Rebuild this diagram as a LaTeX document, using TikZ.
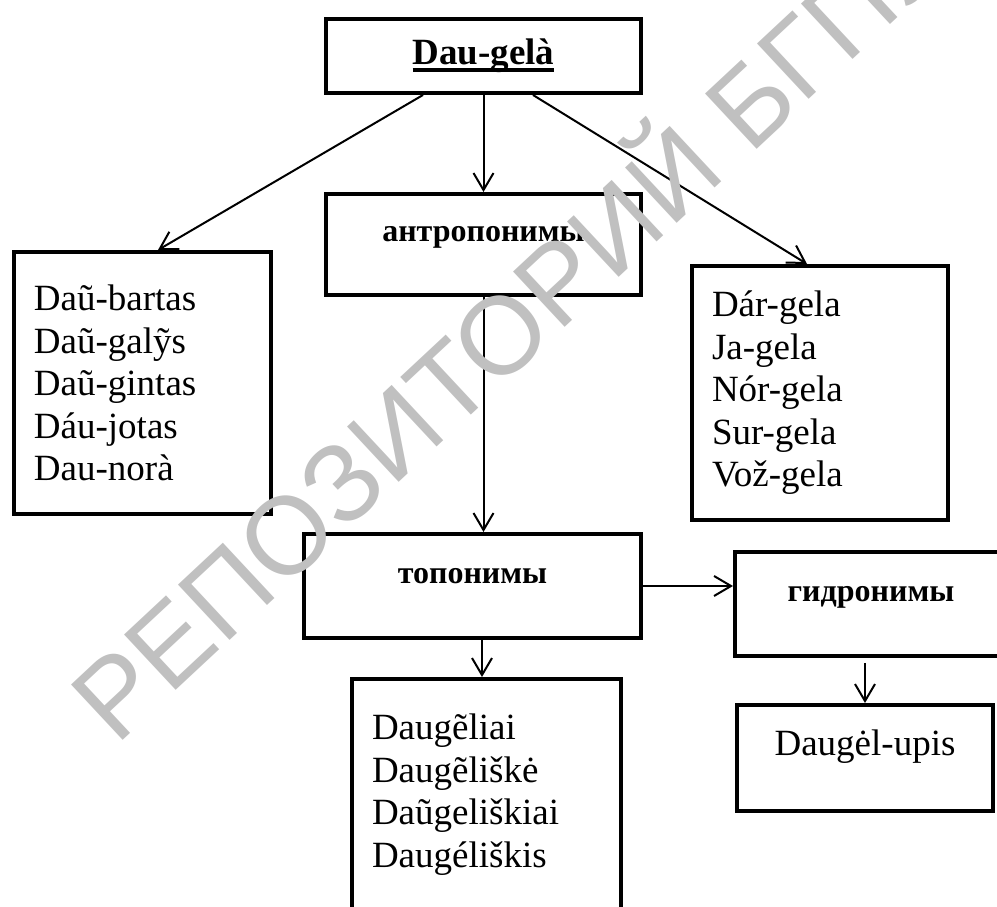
\documentclass[tikz,border=0pt]{standalone}
\usepackage{fontspec}
\setmainfont{Liberation Serif}
\newfontfamily\wmfont{Liberation Sans}
\usetikzlibrary{arrows.meta}
\definecolor{wmgray}{RGB}{192,192,192}
\newsavebox\ulbox
\newcommand\thickul[1]{\sbox\ulbox{#1}\rlap{\rule[-7.5pt]{\wd\ulbox}{4pt}}\usebox\ulbox}
\tikzset{
	box/.style={draw, line width=4pt, inner sep=0pt},
	listbox/.style={box, align=left, inner xsep=20pt, font=\fontsize{37}{42.5}\selectfont},
	lbl/.style={font=\bfseries\fontsize{32}{38}\selectfont, anchor=base},
	arr/.style={-{Straight Barb[length=17pt,width=20pt]}, line width=2pt},
}
\begin{document}
\begin{tikzpicture}[x=1pt,y=1pt]
	\useasboundingbox (0,0) rectangle (997,906);
	% boxes
	\node[box, minimum width=315, minimum height=74] (dau) at (483.5,850) {};
	\node[lbl, font=\bfseries\fontsize{37}{42}\selectfont] (dautxt) at ([yshift=-9]dau.center) {\thickul{Dau-gelà}};
	\node[box, minimum width=315, minimum height=101] (anthr) at (483.5,661.5) {};
	\node[lbl] (anthrtxt) at ([yshift=2.5]anthr.center) {антропонимы};
	\node[listbox, text width=217, minimum height=262] (anthrlist) at (142.5,523) {Daũ-bartas\\Daũ-galỹs\\Daũ-gintas\\Dáu-jotas\\Dau-norà};
	\node[listbox, text width=216, inner xsep=20pt, minimum height=254] (gelalist) at (820,513) {Dár-gela\\Ja-gela\\Nór-gela\\Sur-gela\\Vož-gela};
	\node[box, minimum width=337, minimum height=104] (topo) at (472.5,320) {};
	\node[lbl] (topotxt) at ([yshift=2.7]topo.center) {топонимы};
	\node[box, minimum width=272, minimum height=104] (hydro) at (871,302) {};
	\node[lbl] (hydrotxt) at ([yshift=2.3]hydro.center) {гидронимы};
	\node[box, minimum width=256, minimum height=106] (upis) at (865,148) {};
	\node[font=\fontsize{37}{42.5}\selectfont, anchor=base] (upistxt) at ([yshift=2]upis.center) {Daugėl-upis};
	\node[listbox, text width=229, minimum height=231] (topolist) at (486.5,111.5) {Daugẽliai\\Daugẽliškė\\Daũgeliškiai\\Daugéliškis};
	% arrows
	\draw[arr] ([xshift=-60.5]dau.south) -- ([xshift=15.5]anthrlist.north);
	\draw[arr] (dau.south) -- (anthr.north);
	\draw[arr] ([xshift=49.5]dau.south) -- ([xshift=-13]gelalist.north);
	\draw[arr] (anthr.south) -- (anthr.south |- topo.north);
	\draw[arr] (topo.east) -- (topo.east -| hydro.west);
	\draw[arr] ([xshift=9.5]topo.south) -- ([xshift=9.5]topo.south |- topolist.north);
	\draw[arr, shorten <=5pt] (upis.north |- hydro.south) -- (upis.north);
	% watermark
	\node[text=wmgray, font=\wmfont\fontsize{110}{110}\selectfont, rotate=43, anchor=base west, inner sep=0pt] (wm) at (116,159.5) {РЕПОЗИТОРИЙ БГПУ};
\end{tikzpicture}
\end{document}
